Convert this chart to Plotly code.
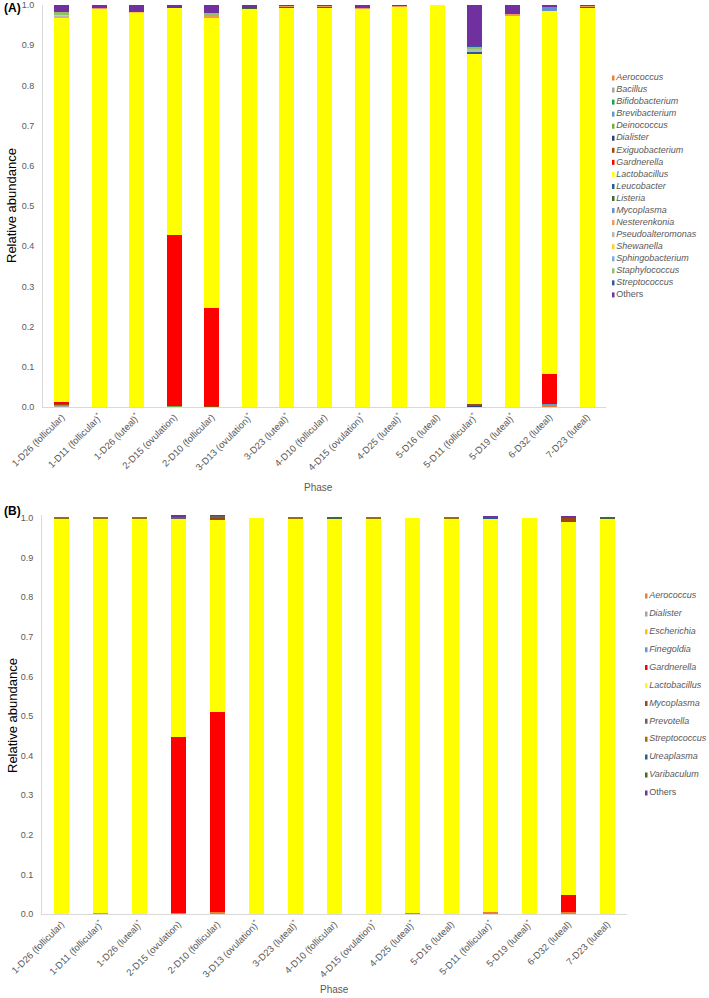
import plotly.graph_objects as go

W, H = 709, 998
FONT = "Liberation Sans, Arial, sans-serif"
GRAY = "#595959"

# ---------------- categories ----------------
categories = ["1-D26 (follicular)", "1-D11 (follicular)*", "1-D26 (luteal)*", "2-D15 (ovulation)",
              "2-D10 (follicular)", "3-D13 (ovulation)*", "3-D23 (luteal)*", "4-D10 (follicular)",
              "4-D15 (ovulation)*", "4-D25 (luteal)*", "5-D16 (luteal)", "5-D11 (follicular)*",
              "5-D19 (luteal)*", "6-D32 (luteal)", "7-D23 (luteal)"]
tick_labels = [c.replace("*", "<sup>*</sup>") for c in categories]
y_ticks = [0.0, 0.1, 0.2, 0.3, 0.4, 0.5, 0.6, 0.7, 0.8, 0.9, 1.0]

# ---------------- panel A series ----------------
A_aerococcus = [0.001, 0, 0, 0, 0, 0, 0, 0, 0, 0, 0, 0.002, 0, 0.006, 0]
A_bacillus = [0.002, 0, 0, 0, 0, 0, 0, 0, 0, 0, 0, 0, 0, 0, 0]
A_bifidobacterium = [0, 0, 0, 0.001, 0, 0, 0, 0, 0, 0, 0, 0, 0, 0, 0]
A_brevibacterium = [0, 0, 0, 0, 0, 0, 0, 0, 0, 0, 0, 0, 0, 0.001, 0]
A_deinococcus = [0.002, 0, 0, 0.002, 0, 0, 0, 0, 0, 0, 0, 0, 0, 0, 0]
A_dialister = [0, 0, 0, 0, 0, 0, 0, 0, 0, 0, 0, 0.001, 0, 0, 0]
A_exiguobacterium = [0.004, 0, 0, 0, 0.002, 0, 0, 0, 0, 0, 0, 0.004, 0, 0, 0]
A_gardnerella = [0.003, 0, 0, 0.425, 0.245, 0, 0, 0, 0, 0, 0, 0, 0, 0.076, 0]
A_lactobacillus = [0.956, 0.992, 0.981, 0.565, 0.723, 0.991, 0.995, 0.995, 0.991, 0.996, 1.0, 0.873, 0.975, 0.902, 0.995]
A_leucobacter = [0, 0, 0, 0, 0, 0, 0, 0, 0, 0, 0, 0.003, 0, 0, 0]
A_listeria = [0, 0, 0, 0, 0, 0.001, 0.001, 0.001, 0.001, 0, 0, 0, 0, 0, 0.002]
A_mycoplasma = [0, 0, 0, 0, 0, 0, 0, 0, 0, 0, 0, 0, 0, 0.011, 0]
A_nesterenkonia = [0, 0.001, 0, 0, 0.003, 0, 0.002, 0.002, 0.001, 0.002, 0, 0, 0.002, 0, 0.001]
A_pseudoalteromonas = [0.005, 0, 0, 0, 0, 0, 0, 0, 0, 0, 0, 0.008, 0, 0, 0]
A_shewanella = [0.002, 0, 0.001, 0, 0.002, 0, 0, 0, 0, 0.001, 0, 0, 0, 0, 0]
A_sphingobacterium = [0, 0, 0, 0, 0, 0, 0, 0, 0, 0, 0, 0.002, 0, 0, 0]
A_staphylococcus = [0.007, 0, 0, 0, 0.004, 0, 0, 0, 0, 0, 0, 0.003, 0, 0, 0]
A_streptococcus = [0, 0, 0, 0, 0, 0, 0, 0, 0, 0, 0, 0.002, 0, 0, 0]
A_others = [0.018, 0.007, 0.018, 0.007, 0.021, 0.008, 0.002, 0.002, 0.007, 0.001, 0, 0.102, 0.023, 0.004, 0.002]

A_names = ["Aerococcus", "Bacillus", "Bifidobacterium", "Brevibacterium", "Deinococcus", "Dialister",
           "Exiguobacterium", "Gardnerella", "Lactobacillus", "Leucobacter", "Listeria", "Mycoplasma",
           "Nesterenkonia", "Pseudoalteromonas", "Shewanella", "Sphingobacterium", "Staphylococcus",
           "Streptococcus", "Others"]
A_colors = ["#ED7D31", "#A5A5A5", "#13A156", "#5B9BD5", "#70AD47", "#264478",
            "#9E480E", "#FF0000", "#FFFF00", "#255E91", "#43682B", "#698ED0",
            "#F1975A", "#B7B7B7", "#FFCD33", "#7CAFDD", "#8CC168",
            "#335AA1", "#7030A0"]
A_values = [A_aerococcus, A_bacillus, A_bifidobacterium, A_brevibacterium, A_deinococcus, A_dialister,
            A_exiguobacterium, A_gardnerella, A_lactobacillus, A_leucobacter, A_listeria, A_mycoplasma,
            A_nesterenkonia, A_pseudoalteromonas, A_shewanella, A_sphingobacterium, A_staphylococcus,
            A_streptococcus, A_others]

# ---------------- panel B series ----------------
B_aerococcus = [0, 0.001, 0, 0.002, 0.004, 0, 0, 0, 0, 0.002, 0, 0.004, 0, 0.005, 0]
B_dialister = [0, 0.002, 0, 0, 0, 0, 0, 0, 0, 0, 0, 0, 0, 0, 0]
B_escherichia = [0, 0, 0, 0, 0, 0, 0, 0, 0, 0, 0, 0, 0, 0, 0]
B_finegoldia = [0, 0, 0, 0, 0, 0, 0, 0, 0, 0, 0, 0, 0, 0, 0]
B_gardnerella = [0, 0, 0, 0.446, 0.507, 0, 0, 0, 0, 0, 0, 0, 0, 0.042, 0]
B_lactobacillus = [1.0, 0.997, 1.0, 0.552, 0.486, 1.0, 1.0, 1.0, 1.0, 0.998, 1.0, 0.996, 1.0, 0.944, 1.0]
B_mycoplasma = [0, 0, 0, 0, 0.003, 0, 0, 0, 0, 0, 0, 0, 0, 0.008, 0]
B_prevotella = [0, 0, 0, 0.005, 0.006, 0, 0, 0, 0, 0, 0, 0, 0, 0, 0]
B_streptococcus = [0.002, 0.002, 0.002, 0, 0, 0, 0.002, 0, 0.002, 0, 0.002, 0, 0, 0, 0]
B_ureaplasma = [0, 0, 0, 0, 0, 0, 0, 0, 0, 0, 0, 0.004, 0, 0, 0]
B_varibaculum = [0, 0, 0, 0, 0, 0, 0, 0.003, 0, 0, 0, 0, 0, 0, 0.003]
B_others = [0, 0, 0, 0.002, 0.001, 0, 0, 0, 0, 0, 0, 0.001, 0, 0.006, 0]

B_names = ["Aerococcus", "Dialister", "Escherichia", "Finegoldia", "Gardnerella", "Lactobacillus",
           "Mycoplasma", "Prevotella", "Streptococcus", "Ureaplasma", "Varibaculum", "Others"]
B_colors = ["#ED7D31", "#A5A5A5", "#FFC000", "#5B9BD5", "#FF0000", "#FFFF00",
            "#9E480E", "#636363", "#997300", "#255E91", "#43682B", "#7030A0"]
B_values = [B_aerococcus, B_dialister, B_escherichia, B_finegoldia, B_gardnerella, B_lactobacillus,
            B_mycoplasma, B_prevotella, B_streptococcus, B_ureaplasma, B_varibaculum, B_others]

# ---------------- layout geometry (pixels) ----------------
A_left, A_right, A_top, A_bottom = 43, 606, 5, 407
B_left, B_right, B_bottom = 42, 627, 914
B_one = 518               # pixel of 1.0 in panel B
B_ymax = 1.008
B_top = B_bottom - (B_bottom - B_one) * B_ymax

A_leg_first, A_leg_step, A_leg_x = 78, 12.05, 612
B_leg_first, B_leg_step, B_leg_x = 596, 17.9, 645


def px_x(p):
    return p / W


def px_y(p):
    return 1 - p / H


fig = go.Figure()

for name, vals, col in zip(A_names, A_values, A_colors):
    fig.add_trace(go.Bar(x=categories, y=vals, name=name, marker=dict(color=col, line=dict(width=0)),
                         width=0.4, xaxis="x", yaxis="y", showlegend=False))
for name, vals, col in zip(B_names, B_values, B_colors):
    fig.add_trace(go.Bar(x=categories, y=vals, name=name, marker=dict(color=col, line=dict(width=0)),
                         width=0.385, xaxis="x2", yaxis="y2", showlegend=False))


def legend_labels(names):
    return [n if n == "Others" else "<i>" + n + "</i>" for n in names]


# custom legends (compact spacing as in reference)
fig.add_trace(go.Scatter(x=[0] * len(A_names), y=list(range(len(A_names))), mode="markers+text",
                         text=legend_labels(A_names), textposition="middle right",
                         textfont=dict(size=9, color=GRAY, family=FONT),
                         marker=dict(symbol="square", size=5, color=A_colors),
                         xaxis="x3", yaxis="y3", showlegend=False, hoverinfo="skip"))
fig.add_trace(go.Scatter(x=[0] * len(B_names), y=list(range(len(B_names))), mode="markers+text",
                         text=legend_labels(B_names), textposition="middle right",
                         textfont=dict(size=9, color=GRAY, family=FONT),
                         marker=dict(symbol="square", size=5, color=B_colors),
                         xaxis="x4", yaxis="y4", showlegend=False, hoverinfo="skip"))

xaxis_common = dict(type="category", categoryorder="array", categoryarray=categories,
                    tickvals=categories, ticktext=tick_labels, tickangle=-45,
                    tickfont=dict(size=9.5, color=GRAY, family=FONT),
                    showline=True, linecolor="#D9D9D9", linewidth=1, showgrid=False,
                    zeroline=False, ticks="", fixedrange=True, automargin=False)
yaxis_common = dict(tickvals=y_ticks, tickformat=".1f",
                    tickfont=dict(size=9, color=GRAY, family=FONT),
                    showline=True, linecolor="#D9D9D9", linewidth=1, showgrid=False,
                    zeroline=False, ticks="", ticklabelstandoff=6, fixedrange=True, automargin=False)

nA, nB = len(A_names), len(B_names)
fig.update_layout(
    width=W, height=H, margin=dict(l=0, r=0, t=0, b=0, autoexpand=False),
    paper_bgcolor="white", plot_bgcolor="white", barmode="stack",
    font=dict(family=FONT, color=GRAY),
    xaxis=dict(domain=[px_x(A_left), px_x(A_right)], anchor="y", **xaxis_common),
    yaxis=dict(domain=[px_y(A_bottom), px_y(A_top)], range=[0, 1], anchor="x", **yaxis_common),
    xaxis2=dict(domain=[px_x(B_left), px_x(B_right)], anchor="y2", **xaxis_common),
    yaxis2=dict(domain=[px_y(B_bottom), px_y(B_top)], range=[0, B_ymax], anchor="x2", **yaxis_common),
    xaxis3=dict(domain=[px_x(A_leg_x), 1], range=[0, W - A_leg_x], visible=False, anchor="y3", fixedrange=True),
    yaxis3=dict(domain=[px_y(A_leg_first + (nA - 0.5) * A_leg_step), px_y(A_leg_first - 0.5 * A_leg_step)],
                range=[nA - 0.5, -0.5], visible=False, anchor="x3", fixedrange=True),
    xaxis4=dict(domain=[px_x(B_leg_x), 1], range=[0, W - B_leg_x], visible=False, anchor="y4", fixedrange=True),
    yaxis4=dict(domain=[px_y(B_leg_first + (nB - 0.5) * B_leg_step), px_y(B_leg_first - 0.5 * B_leg_step)],
                range=[nB - 0.5, -0.5], visible=False, anchor="x4", fixedrange=True),
    annotations=[
        dict(text="<b>(A)</b>", x=px_x(2), y=px_y(8), xref="paper", yref="paper", xanchor="left",
             yanchor="middle", showarrow=False, font=dict(size=12, color="black", family=FONT)),
        dict(text="<b>(B)</b>", x=px_x(2), y=px_y(511), xref="paper", yref="paper", xanchor="left",
             yanchor="middle", showarrow=False, font=dict(size=12, color="black", family=FONT)),
        dict(text="Relative abundance", x=px_x(12), y=px_y((A_top + A_bottom) / 2), xref="paper",
             yref="paper", xanchor="center", yanchor="middle", textangle=-90, showarrow=False,
             font=dict(size=13, color="black", family=FONT)),
        dict(text="Relative abundance", x=px_x(12), y=px_y((B_one + B_bottom) / 2), xref="paper",
             yref="paper", xanchor="center", yanchor="middle", textangle=-90, showarrow=False,
             font=dict(size=13, color="black", family=FONT)),
        dict(text="Phase", x=px_x(318), y=px_y(487), xref="paper", yref="paper", xanchor="center",
             yanchor="middle", showarrow=False, font=dict(size=10, color=GRAY, family=FONT)),
        dict(text="Phase", x=px_x(334), y=px_y(989), xref="paper", yref="paper", xanchor="center",
             yanchor="middle", showarrow=False, font=dict(size=10, color=GRAY, family=FONT)),
    ],
)

fig.write_html("out.html", config={"displayModeBar": False},
               post_script="document.body.style.margin='0';document.body.style.overflow='hidden';")
